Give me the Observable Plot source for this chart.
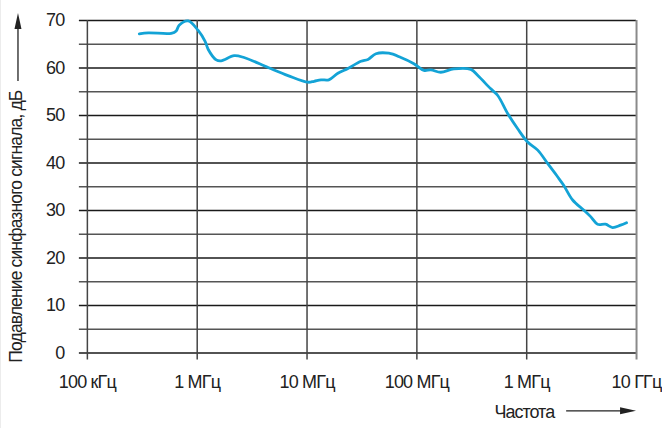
<!DOCTYPE html>
<html>
<head>
<meta charset="utf-8">
<script src="https://cdn.jsdelivr.net/npm/d3@7"></script>
<script src="https://cdn.jsdelivr.net/npm/@observablehq/plot@0.6"></script>
<style>
  html, body { margin: 0; padding: 0; background: #fff; }
  body { width: 662px; height: 428px; overflow: hidden; border-left: 1px solid #ececec; box-sizing: border-box; }
  #chart svg { display: block; }
  #chart svg text { letter-spacing: -0.8px; }
  #chart svg text.y-title { letter-spacing: -0.85px; }
  #chart svg text.x-title { letter-spacing: -1px; }
</style>
</head>
<body>
<div id="chart"></div>
<script>
// Common-mode rejection vs. frequency
const frequencyHz = [
  2.97e5, 3.59e5, 5.81e5, 6.44e5, 6.85e5, 8.28e5, 1.02e6, 1.18e6, 1.26e6, 1.49e6,
  1.65e6, 2.17e6, 2.67e6, 4.42e6, 6.71e6, 1.02e7, 1.16e7, 1.34e7, 1.58e7, 1.91e7,
  2.36e7, 3.10e7, 3.59e7, 4.24e7, 5.56e7, 7.16e7, 9.40e7, 1.16e8, 1.34e8, 1.65e8,
  2.17e8, 3.10e8, 3.59e8, 4.71e8, 5.45e8, 6.71e8, 8.28e8, 1.02e9, 1.26e9, 1.55e9,
  1.91e9, 2.17e9, 2.62e9, 3.30e9, 3.82e9, 4.42e9, 5.22e9, 6.05e9, 7.16e9, 8.11e9
];
const rejectionDb = [
  67.2, 67.4, 67.3, 67.8, 69.0, 69.9, 67.9, 65.6, 63.9, 61.7,
  61.5, 62.6, 62.2, 60.1, 58.4, 57.0, 57.2, 57.5, 57.5, 58.9,
  59.9, 61.4, 61.8, 63.0, 63.1, 62.2, 60.9, 59.5, 59.6, 59.1,
  59.8, 59.7, 58.4, 55.6, 54.2, 50.4, 47.2, 44.4, 42.7, 39.9,
  37.1, 35.3, 32.2, 30.1, 28.7, 27.1, 27.1, 26.4, 26.9, 27.4
];

const xTicks = [1e5, 1e6, 1e7, 1e8, 1e9, 1e10];
const xTickLabels = ["100 кГц", "1 МГц", "10 МГц", "100 МГц", "1 МГц", "10 ГГц"];
const yTicks = [0, 10, 20, 30, 40, 50, 60, 70];
const yMinorTicks = [5, 15, 25, 35, 45, 55, 65];

const yTitle = "Подавление синфазного сигнала, дБ";
const xTitle = "Частота";

const data = frequencyHz.map((f, i) => ({f, db: rejectionDb[i]}));
const fontFamily = "'Liberation Sans', Arial, sans-serif";

const chart = Plot.plot({
  width: 662,
  height: 428,
  marginLeft: 86,
  marginRight: 26,
  marginTop: 20,
  marginBottom: 75,
  style: {fontFamily, fontSize: "18px", color: "#222", background: "#fff"},
  x: {type: "log", domain: [1e5, 1e10]},
  y: {domain: [0, 70]},
  marks: [
    Plot.ruleY(yMinorTicks, {stroke: "#555", strokeWidth: 1.4, insetLeft: -8}),
    Plot.ruleY(yTicks, {stroke: "#1a1a1a", strokeWidth: 1.4, insetLeft: -8}),
    Plot.ruleX(xTicks.slice(0, -1), {stroke: "#444", strokeWidth: 1.5, insetBottom: -7}),
    Plot.ruleX(xTicks.slice(-1), {stroke: "#8a8a8a", strokeWidth: 2, insetBottom: -7}),
    Plot.line(data, {x: "f", y: "db", stroke: "#13a3d6", strokeWidth: 2.8, curve: "catmull-rom"}),
    Plot.axisX(xTicks, {
      tickSize: 0, tickPadding: 22, label: null,
      tickFormat: (d) => xTickLabels[xTicks.indexOf(d)],
      fontSize: 18, fill: "#222"
    }),
    Plot.axisY(yTicks, {tickSize: 0, tickPadding: 23, label: null, fontSize: 18, fill: "#222"})
  ]
});

document.getElementById("chart").appendChild(chart);

// Axis titles with direction arrows
const svg = d3.select(chart);
const g = svg.append("g").attr("font-family", fontFamily).attr("fill", "#222");

g.append("text")
  .attr("class", "y-title")
  .attr("font-size", 17.5)
  .attr("transform", "translate(21,227) rotate(-90)")
  .attr("text-anchor", "middle")
  .text(yTitle);
g.append("line")
  .attr("x1", 17).attr("x2", 17).attr("y1", 81).attr("y2", 26)
  .attr("stroke", "#222").attr("stroke-width", 1.3);
g.append("path")
  .attr("d", "M17,13 L13.5,29 L20.5,29 Z")
  .attr("fill", "#222");

g.append("text")
  .attr("class", "x-title")
  .attr("font-size", 18)
  .attr("x", 554).attr("y", 419)
  .attr("text-anchor", "end")
  .text(xTitle);
g.append("line")
  .attr("x1", 566).attr("x2", 624).attr("y1", 411.5).attr("y2", 411.5)
  .attr("stroke", "#222").attr("stroke-width", 1.3);
g.append("path")
  .attr("d", "M636,411.5 L620,408 L620,415 Z")
  .attr("fill", "#222");
</script>
</body>
</html>
